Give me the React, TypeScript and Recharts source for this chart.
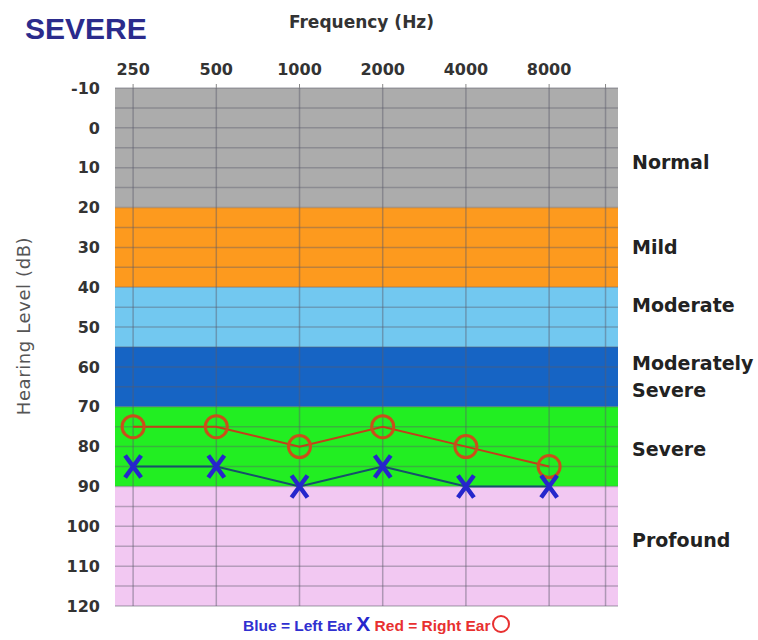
import { LineChart, Line, XAxis, YAxis, ReferenceArea, ReferenceLine } from "recharts"

// audiogram values
const frequencies = [250, 500, 1000, 2000, 4000, 8000]
const leftEar = [85, 85, 90, 85, 90, 90]
const rightEar = [75, 75, 80, 75, 80, 85]
const edgeFrequency = 12800
const levelTicks = [-10, 0, 10, 20, 30, 40, 50, 60, 70, 80, 90, 100, 110, 120]
const gridLevels = [-10, -5, 0, 5, 10, 15, 20, 25, 30, 35, 40, 45, 50, 55, 60, 65, 70, 75, 80, 85, 90, 95, 100, 105, 110, 115, 120]

const bandNames = ["Normal", "Mild", "Moderate", "Moderately Severe", "Severe", "Profound"]
const bandTop = [-10, 20, 40, 55, 70, 90]
const bandBottom = [20, 40, 55, 70, 90, 120]

const bandColors: Record<string, string> = {
  Normal: "#acacac",
  Mild: "#fd9a1e",
  Moderate: "#72c8f0",
  "Moderately Severe": "#1664c4",
  Severe: "#22ee22",
  Profound: "#f2c8f2",
}

const labelNudge: Record<string, number> = {
  Normal: 14,
  Moderate: -12,
  Severe: 3,
  Profound: -6,
}

const data = frequencies.map((f, i) => ({ freq: f, left: leftEar[i], right: rightEar[i] }))

const font = "'DejaVu Sans', sans-serif"

function BandLabel(props: any) {
  const { viewBox, name } = props
  if (!viewBox) return null
  const x = viewBox.x + viewBox.width + 14
  const y = viewBox.y + viewBox.height / 2 + (labelNudge[name] || 0)
  const lines = name === "Moderately Severe" ? ["Moderately", "Severe"] : [name]
  return (
    <text x={x} fontFamily={font} fontWeight={700} fontSize={19} fill="#222">
      {lines.map((l, i) => (
        <tspan key={l} x={x} y={y + (i - (lines.length - 1) / 2) * 27} dy="0.36em">
          {l}
        </tspan>
      ))}
    </text>
  )
}

const Ring = (props: any) => {
  const { cx, cy } = props
  return <circle cx={cx} cy={cy} r={11} fill="none" stroke="#c8501a" strokeWidth={3} />
}

const Cross = (props: any) => {
  const { cx, cy } = props
  return (
    <path
      d={`M${cx - 8},${cy - 11}L${cx + 8},${cy + 11}M${cx + 8},${cy - 11}L${cx - 8},${cy + 11}`}
      stroke="#2626cc"
      strokeWidth={4.5}
      fill="none"
    />
  )
}

export default function App() {
  return (
    <div style={{ position: "absolute", left: 0, top: 0, width: 758, height: 640, background: "#fff" }}>
      <div style={{ position: "absolute", left: 25, top: 14, fontFamily: "'Liberation Sans', Arial, sans-serif", fontWeight: 700, fontSize: 30, lineHeight: 1, color: "#2b2b8c" }}>
        SEVERE
      </div>
      <div style={{ position: "absolute", left: 280, top: 11, width: 163, textAlign: "center", fontFamily: font, fontWeight: 700, fontSize: 17, lineHeight: "22px", color: "#333" }}>
        Frequency (Hz)
      </div>
      <div
        style={{
          position: "absolute",
          left: 23,
          top: 326,
          transform: "translate(-50%, -50%) rotate(-90deg)",
          whiteSpace: "nowrap",
          fontFamily: font,
          fontSize: 18,
          letterSpacing: 0.6,
          color: "#555",
        }}
      >
        Hearing Level (dB)
      </div>
      <LineChart width={758} height={640} data={data} margin={{ top: 58, right: 140, bottom: 34, left: 15 }}>
        <XAxis
          dataKey="freq"
          type="number"
          scale="log"
          orientation="top"
          height={30}
          domain={[215, 14200]}
          ticks={[...frequencies, edgeFrequency]}
          tickFormatter={(v) => (v === edgeFrequency ? "" : String(v))}
          axisLine={false}
          tickSize={4}
          tickMargin={9}
          tickLine={{ stroke: "#888" }}
          tick={{ fill: "#333", fontSize: 16, fontWeight: 700, fontFamily: font }}
        />
        <YAxis
          type="number"
          reversed
          width={100}
          domain={[-10, 120]}
          ticks={levelTicks}
          axisLine={false}
          tickLine={false}
          tickSize={0}
          tickMargin={15}
          tick={{ fill: "#333", fontSize: 16, fontWeight: 700, fontFamily: font }}
        />
        {bandNames.map((name, i) => (
          <ReferenceArea
            key={name}
            y1={bandTop[i]}
            y2={bandBottom[i]}
            fill={bandColors[name]}
            fillOpacity={1}
            stroke="none"
            label={<BandLabel name={name} />}
          />
        ))}
        {gridLevels.map((v) => (
          <ReferenceLine key={`h${v}`} y={v} stroke="#5a5a6a" strokeWidth={1.5} strokeOpacity={0.4} />
        ))}
        {[...frequencies, edgeFrequency].map((f) => (
          <ReferenceLine key={`v${f}`} x={f} stroke="#5a5a6a" strokeWidth={1.5} strokeOpacity={0.45} />
        ))}
        <Line dataKey="right" stroke="#c0401a" strokeWidth={2} dot={<Ring />} isAnimationActive={false} />
        <Line dataKey="left" stroke="#16506a" strokeWidth={2} dot={<Cross />} isAnimationActive={false} />
      </LineChart>
      <div
        style={{
          position: "absolute",
          left: 243,
          top: 613,
          whiteSpace: "nowrap",
          fontFamily: "'Liberation Sans Narrow', 'Liberation Sans', sans-serif",
          fontWeight: 700,
          fontSize: 15.5,
          lineHeight: "22px",
        }}
      >
        <span style={{ color: "#3030d0" }}>Blue = Left Ear </span>
        <span style={{ color: "#2626cc", fontSize: 21 }}>X</span>
        <span style={{ color: "#e83030" }}> Red = Right Ear</span>
        <span style={{ display: "inline-block", width: 14, height: 14, border: "2px solid #e83030", borderRadius: "50%", marginLeft: 2, verticalAlign: "-2px" }} />
      </div>
    </div>
  )
}
